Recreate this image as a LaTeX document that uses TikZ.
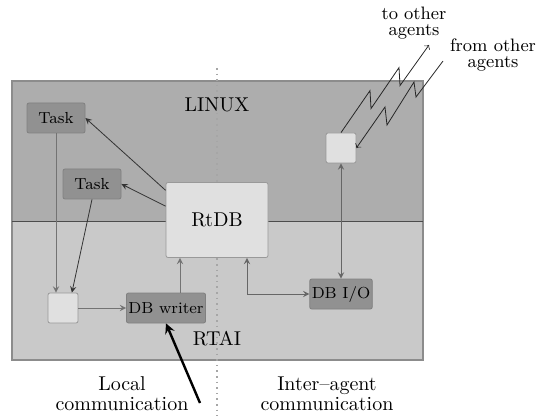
\documentclass[tikz,border=0pt]{standalone}

\definecolor{linuxgray}{gray}{0.68}
\definecolor{rtaigray}{gray}{0.79}
\definecolor{taskgray}{gray}{0.57}
\definecolor{boxlight}{gray}{0.88}

\tikzstyle{arrow} = [->,>=stealth,draw=black!80]
\tikzstyle{twoway} = [<->,>=stealth,draw=black!60]
\tikzstyle{wireless} = [->,>=to,draw=black!85]
\tikzstyle{module} = [
        rectangle,
        rounded corners=1pt,
        minimum width=29pt,
        minimum height=15pt,
        inner sep=1pt,
        text centered,
        draw=black!50,
        fill=taskgray,
        font=\footnotesize
    ]
\tikzstyle{store} = [
        rectangle,
        rounded corners=1pt,
        minimum width=51pt,
        minimum height=37.5pt,
        text centered,
        draw=black!40,
        fill=boxlight
    ]
\tikzstyle{slot} = [
        rectangle,
        rounded corners=1pt,
        minimum width=15pt,
        minimum height=15pt,
        draw=black!40,
        fill=boxlight
    ]
\tikzstyle{caption} = [align=center]

\begin{document}
\begin{tikzpicture}[x=0.5pt,y=-0.5pt,node distance=51.5pt]

        \useasboundingbox (0,0) rectangle (539,416);
        \fill [linuxgray] (12,81) rectangle (423,221);
        \fill [rtaigray] (12,221) rectangle (423,360);
        \draw [black!45, line width=0.8pt] (12,81) rectangle (423,360);
        \draw [black!70] (12,221) -- (423,221);
        \draw [black!35, dotted, line width=0.8pt] (217,68) -- (217,416);

        \node (linux) at (217,105) {LINUX};
        \node (rtai) at (217,339) {RTAI};

        \node [store] (rtdb) at (217,220) {RtDB};
        \node [module] (task1) at (56,118) {Task};
        \node [module] (task2) at (92,184) {Task};
        \node [slot] (buf) at (63,308) {};
        \node [module, right of=buf, minimum width=36.5pt] (writer) {DB writer};
        \node [module, minimum width=30pt] (dbio) at (341,294) {DB I/O};
        \node [slot, above of=dbio, yshift=21.5pt] (radio) {};

        \coordinate (out) at (429,45);
        \coordinate (in) at (443,61);
        \coordinate (local) at (200,403);

        \node [caption, font=\small] (tolabel) at (414,23) {to other\\[-3pt]agents};
        \node [caption, font=\small] (fromlabel) at (493,55) {from other\\[-3pt]agents};
        \node [caption] (locallabel) at (122,394) {Local\\[-2pt]communication};
        \node [caption] (interlabel) at (327,394) {Inter--agent\\[-2pt]communication};

        \draw [arrow] (rtdb.150) -- (task1.east);
        \draw [arrow] (rtdb.165) -- (task2.east);
        \draw [arrow, draw=black!55] (task1.south) -- (task1.south |- buf.north);
        \draw [arrow] (task2.south) -- (buf.60);
        \draw [arrow, draw=black!55] (buf.east) -- (writer.west);
        \draw [arrow, draw=black!55] ([xshift=7pt]writer.north) -- ([xshift=7pt]writer.north |- rtdb.south);
        \draw [twoway] (dbio.west) -| ([xshift=15pt]rtdb.south);
        \draw [twoway] (dbio.north) -- (radio.south);
        \draw [wireless] (radio.north) -- ++(29,-42) -- ++(1,18) -- ++(28,-41) -- ++(1,18) -- (out);
        \draw [wireless] (in) -- ++(-27,36) -- ++(-2,-15) -- ++(-27,43) -- ++(-2,-18) -- (radio.east);
        \draw [very thick,->,>=stealth] (local) -- (writer.south);

    \end{tikzpicture}
\end{document}
